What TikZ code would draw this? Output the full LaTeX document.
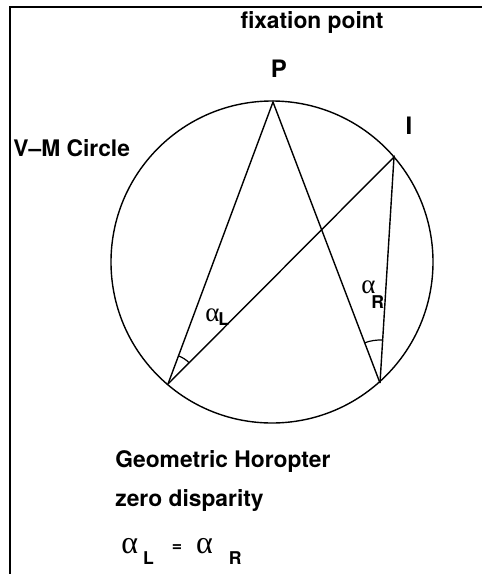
\documentclass[tikz,border=0pt]{standalone}
\usepackage{fontspec}
\setmainfont{TeX Gyre Heros}
\newfontfamily\greekfont{Liberation Serif}
\usetikzlibrary{angles}
\tikzset{
  label/.style={font=\fontsize{11.4}{13}\selectfont\bfseries, inner sep=0pt},
  leftlabel/.style={label, anchor=west},
  pointmark/.style={font=\fontsize{12}{14}\selectfont\bfseries, inner sep=0pt},
  line/.style={line width=0.7pt},
  anglemark/.style={draw, line width=0.6pt}
}
\newcommand{\alp}[1]{{\greekfont\fontsize{#1}{#1}\selectfont α}}
\newcommand{\sub}[1]{{\fontsize{8.8}{9}\selectfont\bfseries #1}}

\begin{document}
\begin{tikzpicture}[x=0.5pt, y=-0.5pt]
  \useasboundingbox (0,0) rectangle (482,574);
  \draw[line width=1pt] (482,7) -- (10,7) -- (10,574);

  \coordinate (c) at (272,262);
  \coordinate (p) at (273,102);
  \coordinate (i) at (394,157);
  \coordinate (l) at (168,384);
  \coordinate (r) at (380,383);

  \draw[line] (c) circle[radius=161];
  \draw[line] (l) -- (p) -- (r);
  \draw[line] (l) -- (i) -- (r);
  \pic[anglemark, angle radius=15pt] {angle=i--l--p};
  \pic[anglemark, angle radius=21.5pt] {angle=i--r--p};

  \node[label] (fix) at (312,22) {fixation point};
  \node[pointmark] (plabel) at (279,69) {P};
  \node[pointmark] (ilabel) at (409,126) {I};
  \node[leftlabel] (vm) at (13,148) {V--M Circle};

  \node[anchor=base west, inner sep=0pt] (al) at (205,321) {\alp{13.5}};
  \node[anchor=base west, inner sep=0pt] (sl) at (218,325) {\sub{L}};
  \node[anchor=base west, inner sep=0pt] (ar) at (361,293) {\alp{13.5}};
  \node[anchor=base west, inner sep=0pt] (sr) at (371,308) {\sub{R}};

  \node[leftlabel] (geo) at (115,461) {Geometric Horopter};
  \node[leftlabel] (zero) at (115,500) {zero disparity};
  \node[anchor=base west, inner sep=0pt] (eq) at (121,553)
    {\alp{16}\hspace{2.5pt}\raisebox{-5.5pt}{\sub{L}}\hspace{9pt}\raisebox{0.8pt}{\sub{=}}\hspace{7pt}\alp{16}\hspace{8pt}\raisebox{-5.5pt}{\sub{R}}};
\end{tikzpicture}
\end{document}
